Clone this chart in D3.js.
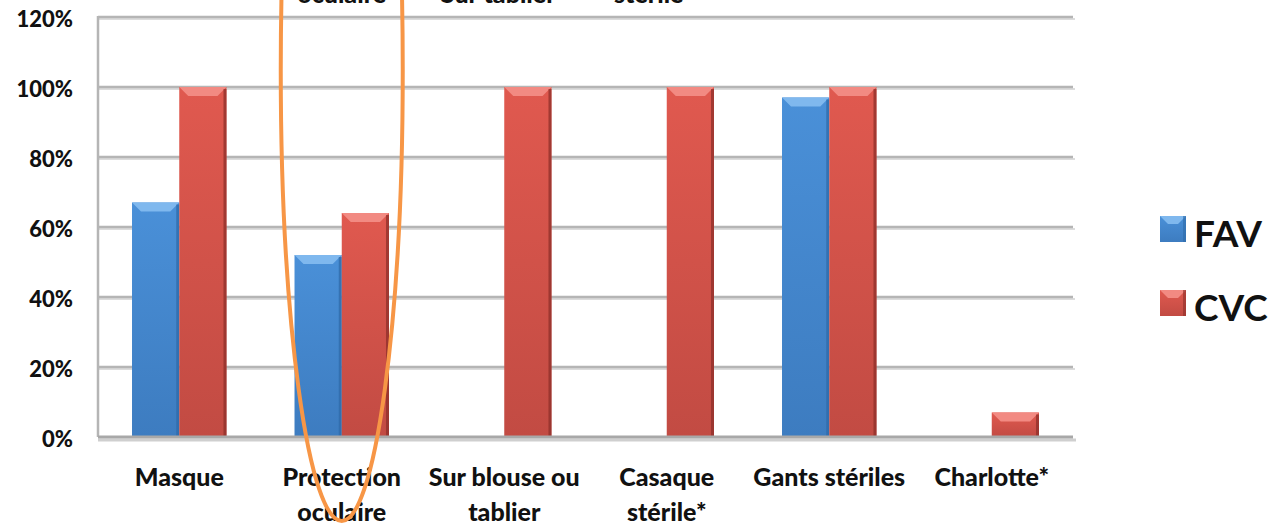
<!DOCTYPE html>
<html>
<head>
<meta charset="utf-8">
<script src="https://cdn.jsdelivr.net/npm/d3@7"></script>
<style>
  html, body { margin: 0; padding: 0; background: #fff; }
  svg { display: block; }
  text { font-family: Lato, "Open Sans", sans-serif; fill: #111; }
</style>
</head>
<body>
<svg id="chart" width="1279" height="526"></svg>
<script>
// Equipment categories (two-line labels split with "\n")
const categories = ["Masque", "Protection\noculaire", "Sur blouse ou\ntablier", "Casaque\nstérile*", "Gants stériles", "Charlotte*"];
const seriesNames = ["FAV", "CVC"];
// Percentage of use per category; null = no bar
const favValues = [67, 52, null, null, 97, null];
const cvcValues = [100, 64, 100, 100, 100, 7];
const yTicks = [0, 20, 40, 60, 80, 100, 120];
// Cut-off second lines of a label row sitting above the chart
const topLabels = ["oculaire", "Sur tablier", "stérile"];

const svg = d3.select("#chart");
const margin = { left: 98, right: 206, top: 17, bottom: 89 };
const W = 1279, H = 526;
const plotW = W - margin.left - margin.right;
const plotH = H - margin.top - margin.bottom;

const colors = {
  FAV: { main: "#4a90d8", light: "#7fb8ee", dark: "#2f6aa8", bottom: "#3d7cc0" },
  CVC: { main: "#e0594f", light: "#f28a82", dark: "#8e2f29", bottom: "#c24b43" }
};

const defs = svg.append("defs");
seriesNames.forEach(s => {
  const g = defs.append("linearGradient").attr("id", "grad-" + s)
    .attr("x1", 0).attr("y1", 0).attr("x2", 0).attr("y2", 1);
  g.append("stop").attr("offset", "0%").attr("stop-color", colors[s].main);
  g.append("stop").attr("offset", "100%").attr("stop-color", colors[s].bottom);
});

const rows = categories.map((c, i) => ({ cat: c, FAV: favValues[i], CVC: cvcValues[i] }));

const x0 = d3.scaleBand().domain(categories).range([margin.left, margin.left + plotW]).paddingInner(0).paddingOuter(0);
const x1 = d3.scaleBand().domain(seriesNames).range([0, x0.bandwidth()]).paddingInner(0).paddingOuter(0.72);
const y = d3.scaleLinear().domain([0, 120]).range([margin.top + plotH, margin.top]);

// gridlines with a soft shadow line beneath each
const grid = svg.append("g");
const gridTicks = yTicks.filter(t => t > 0);
grid.selectAll("line.sh").data(gridTicks).join("line").attr("class", "sh")
  .attr("x1", margin.left).attr("x2", margin.left + plotW + 2)
  .attr("y1", d => y(d) + 2).attr("y2", d => y(d) + 2)
  .attr("stroke", "#dcdcdc").attr("stroke-width", 2);
grid.selectAll("line.gl").data(gridTicks).join("line").attr("class", "gl")
  .attr("x1", margin.left).attr("x2", margin.left + plotW)
  .attr("y1", d => y(d)).attr("y2", d => y(d))
  .attr("stroke", "#b5b5b5").attr("stroke-width", 2.5);

// left axis line
svg.append("line").attr("x1", margin.left).attr("x2", margin.left)
  .attr("y1", y(120) - 1).attr("y2", y(0))
  .attr("stroke", "#b5b5b5").attr("stroke-width", 2.5);

// y tick labels via axis
const yAxis = svg.append("g").attr("transform", `translate(${margin.left - 25},0)`)
  .call(d3.axisLeft(y).tickValues(yTicks).tickFormat(d => d + "%").tickSize(0).tickPadding(0));
yAxis.select(".domain").remove();
yAxis.selectAll("text").attr("font-size", 22).attr("font-weight", 900)
  .attr("font-family", "Lato, sans-serif").attr("fill", "#111").attr("dy", "0.45em");

// bars
const bevel = 9, edge = 3;
const barData = [];
rows.forEach(r => seriesNames.forEach(s => { if (r[s] != null) barData.push({ cat: r.cat, s, v: r[s] }); }));
const bars = svg.append("g").selectAll("g").data(barData).join("g")
  .attr("transform", d => `translate(${x0(d.cat) + x1(d.s)},0)`);
const bw = x1.bandwidth();
bars.append("rect").attr("x", 0).attr("width", bw)
  .attr("y", d => y(d.v)).attr("height", d => y(0) - y(d.v))
  .attr("fill", d => `url(#grad-${d.s})`);
// top bevel
bars.append("path")
  .attr("d", d => { const t = y(d.v); const b = Math.min(bevel, (y(0) - t) / 2);
    return `M0,${t}L${bw},${t}L${bw - b},${t + b}L${b},${t + b}Z`; })
  .attr("fill", d => colors[d.s].light);
bars.append("rect").attr("x", bw - edge).attr("width", edge)
  .attr("y", d => y(d.v) + 2).attr("height", d => y(0) - y(d.v) - 2)
  .attr("fill", d => colors[d.s].dark).attr("opacity", 0.75);

// baseline axis with shadow
svg.append("line").attr("x1", margin.left).attr("x2", margin.left + plotW + 3)
  .attr("y1", y(0) + 3).attr("y2", y(0) + 3)
  .attr("stroke", "#cfcfcf").attr("stroke-width", 3);
svg.append("line").attr("x1", margin.left).attr("x2", margin.left + plotW)
  .attr("y1", y(0)).attr("y2", y(0))
  .attr("stroke", "#a8a8a8").attr("stroke-width", 3);

// category labels
const catG = svg.append("g");
categories.forEach(c => {
  const lines = c.split("\n");
  const cx = x0(c) + x0.bandwidth() / 2;
  const t = catG.append("text").attr("x", cx).attr("y", 486)
    .attr("text-anchor", "middle").attr("font-size", 25).attr("font-weight", 900);
  lines.forEach((l, i) => t.append("tspan").attr("x", cx).attr("dy", i ? 35 : 0).text(l));
});

// cut-off labels along the top edge
topLabels.forEach((l, i) => {
  svg.append("text").attr("x", x0(categories[i + 1]) + x0.bandwidth() / 2 - [0, 6, 18][i]).attr("y", 3)
    .attr("text-anchor", "middle").attr("font-size", 25).attr("font-weight", 900).text(l);
});

// legend
const leg = svg.append("g").attr("transform", "translate(1160,216)");
seriesNames.forEach((s, i) => {
  const g = leg.append("g").attr("transform", `translate(0,${i * 74})`);
  g.append("rect").attr("width", 26).attr("height", 26).attr("fill", `url(#grad-${s})`);
  g.append("path").attr("d", "M0,0L26,0L18,8L8,8Z").attr("fill", colors[s].light);
  g.append("rect").attr("x", 23).attr("width", 3).attr("height", 26).attr("fill", colors[s].dark).attr("opacity", 0.6);
  g.append("text").attr("x", 34).attr("y", 31).attr("font-size", 37).attr("font-weight", 700).text(s);
});

// highlight ellipse around the eye protection category
svg.append("ellipse")
  .attr("cx", x0(categories[1]) + x0.bandwidth() / 2).attr("cy", 70)
  .attr("rx", 61).attr("ry", 451)
  .attr("fill", "none").attr("stroke", "#f79646").attr("stroke-width", 4);
</script>
</body>
</html>
